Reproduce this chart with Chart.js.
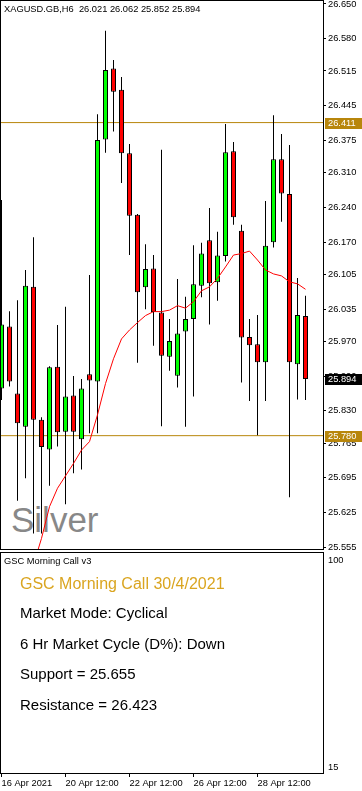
<!DOCTYPE html>
<html><head><meta charset="utf-8">
<script src="https://cdn.jsdelivr.net/npm/chart.js@4.4.0/dist/chart.umd.min.js"></script>
<style>
html,body{margin:0;padding:0;background:#fff;width:362px;height:791px;overflow:hidden;}
#wrap{position:relative;width:362px;height:791px;}
canvas{position:absolute;left:0;}
#c1{top:0;z-index:2}
#c2{top:552px;z-index:3}
.t{position:absolute;white-space:pre;font-family:"Liberation Sans",Arial,sans-serif;z-index:4;color:#000}
</style></head><body>
<div id="wrap">
<div class="t" style="z-index:1;left:11px;top:502px;font-size:35px;line-height:35px;color:#888">Silver</div>
<canvas id="c1" width="362" height="553"></canvas>
<canvas id="c2" width="362" height="239"></canvas>
<div class="t" style="left:4px;top:5.4px;font-size:9.3px;line-height:9.3px">XAGUSD.GB,H6  26.021 26.062 25.852 25.894</div>
<div class="t" style="left:4px;top:557.1px;font-size:9.3px;line-height:9.3px">GSC Morning Call v3</div>
<div class="t" style="left:20px;top:575.5px;font-size:16px;line-height:16px;color:#DAA520">GSC Morning Call 30/4/2021</div>
<div class="t" style="left:20px;top:605.3px;font-size:15px;line-height:15px">Market Mode: Cyclical</div>
<div class="t" style="left:20px;top:635.8px;font-size:15px;line-height:15px">6 Hr Market Cycle (D%): Down</div>
<div class="t" style="left:20px;top:666.3px;font-size:15px;line-height:15px">Support = 25.655</div>
<div class="t" style="left:20px;top:696.8px;font-size:15px;line-height:15px">Resistance = 26.423</div>
</div>
<script>
// ---- data ----
const timeLabels = ['16 Apr 2021','20 Apr 12:00','22 Apr 12:00','26 Apr 12:00','28 Apr 12:00'];
const timeLabelIndex = [0, 8, 16, 24, 32];
const opens  = [25.875,26.000,25.865,25.798,26.080,25.812,25.752,25.919,25.788,25.861,25.773,25.904,25.889,26.377,26.520,26.477,26.349,26.225,26.079,26.117,26.028,25.939,25.901,25.990,26.015,26.082,26.174,26.089,26.142,26.353,26.193,25.979,25.964,25.928,26.170,26.337,26.267,25.924,26.021];
const highs  = [26.255,26.031,26.053,26.114,26.180,25.817,25.920,26.003,26.040,25.900,25.894,26.104,26.428,26.596,26.537,26.503,26.368,26.227,26.166,26.144,26.356,26.015,26.096,26.060,26.164,26.169,26.239,26.191,26.408,26.372,26.205,26.015,26.023,26.253,26.426,26.388,26.366,26.098,26.062];
const lows   = [25.852,25.879,25.649,25.694,25.583,25.583,25.679,25.758,25.642,25.704,25.712,25.785,25.785,26.350,26.393,26.289,26.144,25.927,26.035,25.961,25.799,25.911,25.877,25.798,25.859,26.059,26.004,26.052,26.131,26.205,25.887,25.850,25.781,25.850,26.159,26.211,25.656,25.853,25.852];
const closes = [26.004,25.889,25.805,26.082,25.812,25.757,25.918,25.787,25.859,25.788,25.875,25.891,26.376,26.517,26.473,26.349,26.223,26.069,26.116,26.029,25.941,25.971,25.986,26.015,26.085,26.147,26.087,26.143,26.351,26.220,25.978,25.962,25.928,26.163,26.337,26.268,25.928,26.023,25.894];
const maValues = [null,null,null,null,25.520,25.573,25.637,25.674,25.699,25.724,25.751,25.768,25.822,25.885,25.935,25.975,25.993,26.008,26.022,26.030,26.030,26.033,26.042,26.037,26.050,26.072,26.080,26.097,26.120,26.144,26.147,26.152,26.134,26.114,26.106,26.102,26.090,26.086,26.075];
const priceTicks = [26.650,26.580,26.515,26.445,26.375,26.310,26.240,26.170,26.105,26.035,25.970,25.900,25.830,25.765,25.695,25.625,25.555];
const resistanceLevel = 26.411;
const supportLevel = 25.780;
const lastPrice = 25.894;
const indicatorTicks = [100, 15];

const FONT = 'Liberation Sans';
const idx = opens.map((_, i) => i);

const framePlugin = {
  id: 'frame',
  afterDraw(chart) {
    const a = chart.chartArea, ctx = chart.ctx;
    ctx.save();
    ctx.strokeStyle = '#000'; ctx.lineWidth = 1;
    ctx.strokeRect(a.left + 0.5, a.top + 0.5, a.right - a.left, a.bottom - a.top - 1);
    ctx.restore();
  }
};
const tagPlugin = {
  id: 'tags',
  afterDraw(chart) {
    const y = chart.scales.y, ctx = chart.ctx, a = chart.chartArea;
    ctx.save();
    ctx.font = '9.3px "' + FONT + '"';
    ctx.textBaseline = 'middle'; ctx.textAlign = 'left';
    [[resistanceLevel, '#B8860B'], [supportLevel, '#B8860B'], [lastPrice, '#000']].forEach(([v, c]) => {
      const py = Math.round(y.getPixelForValue(v));
      ctx.fillStyle = c;
      ctx.fillRect(a.right + 2, py - 5, chart.width - a.right - 2, 11);
      ctx.fillStyle = '#fff';
      ctx.fillText(v.toFixed(3), a.right + 5, py + 0.5);
    });
    ctx.restore();
  }
};

new Chart(document.getElementById('c1'), {
  type: 'bar',
  data: {
    datasets: [
      { type: 'line', data: [{x: -1, y: resistanceLevel}, {x: 41, y: resistanceLevel}], borderColor: '#B8860B', borderWidth: 1, pointRadius: 0, order: 5 },
      { type: 'line', data: [{x: -1, y: supportLevel}, {x: 41, y: supportLevel}], borderColor: '#B8860B', borderWidth: 1, pointRadius: 0, order: 5 },
      { data: idx.map(i => ({x: i, y: [lows[i], highs[i]]})), backgroundColor: '#000', borderWidth: 0, barThickness: 1, grouped: false, inflateAmount: 0, order: 3 },
      { data: idx.map(i => ({x: i, y: [opens[i], closes[i]]})), backgroundColor: idx.map(i => closes[i] >= opens[i] ? '#00FF00' : '#FF0000'), borderColor: '#000', borderWidth: 1, borderSkipped: false, barThickness: 5, grouped: false, inflateAmount: 0, order: 2 },
      { type: 'line', data: idx.map(i => ({x: i, y: maValues[i]})), borderColor: '#FF0000', borderWidth: 1, pointRadius: 0, tension: 0, order: 1 }
    ]
  },
  options: {
    responsive: false, animation: false, devicePixelRatio: 1, events: [],
    layout: {padding: {left: 0, right: 0, top: 0, bottom: 3}},
    plugins: {legend: {display: false}, tooltip: {enabled: false}},
    scales: {
      x: {type: 'linear', display: false, min: -0.1875, max: 40.1875, offset: false, grid: {offset: false}},
      y: {
        type: 'linear', position: 'right', min: 25.54956, max: 26.65806, beginAtZero: false,
        afterBuildTicks: s => { s.ticks = priceTicks.map(v => ({value: v})); },
        afterFit: s => { s.width = 39; s.paddingTop = 0; s.paddingBottom = 0; },
        ticks: {callback: v => Number(v).toFixed(3), color: '#000', font: {family: FONT, size: 9.3}, padding: 2, autoSkip: false},
        grid: {display: true, drawOnChartArea: false, drawTicks: true, tickLength: 3, color: '#000'},
        border: {display: false}
      }
    }
  },
  plugins: [framePlugin, tagPlugin]
});

new Chart(document.getElementById('c2'), {
  type: 'line',
  data: {datasets: [{data: []}]},
  options: {
    responsive: false, animation: false, devicePixelRatio: 1, events: [],
    layout: {padding: 0},
    plugins: {legend: {display: false}, tooltip: {enabled: false}},
    scales: {
      x: {
        type: 'linear', position: 'bottom', min: -0.1875, max: 40.1875, offset: false,
        afterBuildTicks: s => { s.ticks = timeLabelIndex.map(v => ({value: v})); },
        afterFit: s => { s.height = 17; s.paddingLeft = 0; s.paddingRight = 0; },
        ticks: {callback: (v, i) => timeLabels[i], align: 'start', maxRotation: 0, minRotation: 0, autoSkip: false, color: '#000', font: {family: FONT, size: 9.3}, padding: 0.4},
        grid: {display: true, drawOnChartArea: false, drawTicks: true, tickLength: 3, color: '#000', offset: false},
        border: {display: false}
      },
      y: {
        type: 'linear', position: 'right', min: 12.1256, max: 103.285,
        afterBuildTicks: s => { s.ticks = indicatorTicks.map(v => ({value: v})); },
        afterFit: s => { s.width = 39; s.paddingTop = 0; s.paddingBottom = 0; },
        ticks: {callback: v => String(v), color: '#000', font: {family: FONT, size: 9.3}, padding: 5, autoSkip: false},
        grid: {display: false, drawTicks: false},
        border: {display: false}
      }
    }
  },
  plugins: [framePlugin]
});
</script>
</body></html>
